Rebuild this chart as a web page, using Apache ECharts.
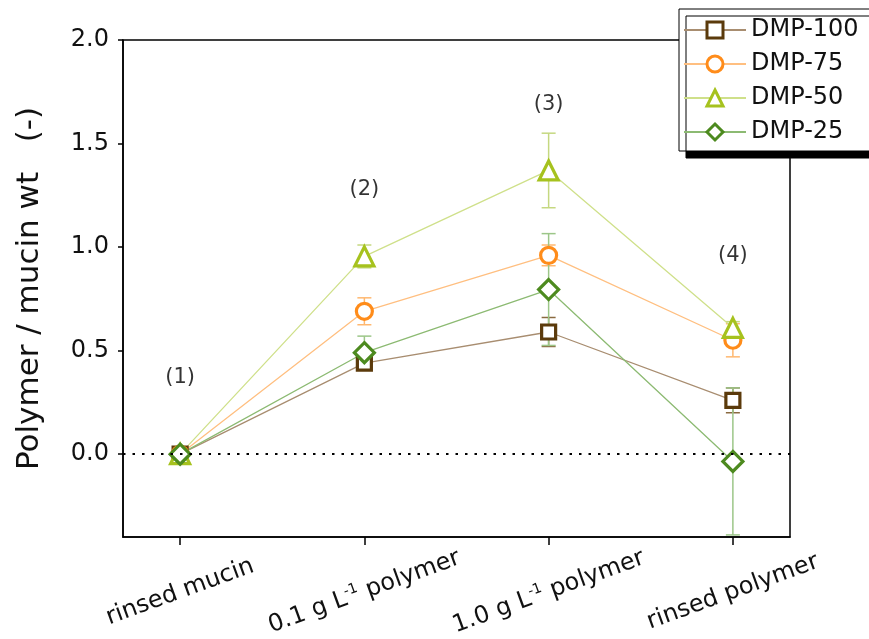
<!DOCTYPE html>
<html><head><meta charset="utf-8">
<script src="https://cdn.jsdelivr.net/npm/echarts@6/dist/echarts.min.js"></script>
<style>html,body{margin:0;padding:0;background:#fff}#c{width:869px;height:639px}</style>
</head><body><div id="c"></div>
<script>
var categories = ['rinsed mucin', '0.1 g L{sup|-1} polymer', '1.0 g L{sup|-1} polymer', 'rinsed polymer'];
var seriesNames = ['DMP-100', 'DMP-75', 'DMP-50', 'DMP-25'];
var dmp100 = [0, 0.44, 0.59, 0.26];
var dmp75  = [0, 0.69, 0.96, 0.55];
var dmp50  = [0, 0.955, 1.37, 0.61];
var dmp25  = [0, 0.49, 0.795, -0.035];
var err100 = [0, 0.03, 0.07, 0.06];
var err75  = [0, 0.065, 0.05, 0.08];
var err50  = [0, 0.055, 0.18, 0.03];
var err25  = [0, 0.08, 0.27, 0.355];
var annoText = ['(1)', '(2)', '(3)', '(4)'];
var annoY = [0.37, 1.28, 1.69, 0.96];
var yTicks = [0, 0.5, 1.0, 1.5, 2.0];

var FONT = 'DejaVu Sans, sans-serif';
var styles = [
  {sym:'rect', size:14, fill:'#5b3a0b', line:'#a88d70', err:'#8a6a40'},
  {sym:'circle', size:16, fill:'#ff8c1a', line:'#ffbf80', err:'#ffb870'},
  {sym:'triangle', size:19, fill:'#a6c21e', line:'#cfe08a', err:'#c5d880'},
  {sym:'diamond', size:20, fill:'#4d8a1f', line:'#8cba72', err:'#9cc688'}
];
var vals = [dmp100, dmp75, dmp50, dmp25];
var errs = [err100, err75, err50, err25];

function errRender(color) {
  return function (params, api) {
    var x = api.value(0), lo = api.value(1), hi = api.value(2);
    if (hi - lo < 1e-9) return null;
    var p1 = api.coord([x, hi]), p2 = api.coord([x, lo]);
    var w = 7;
    var st = {stroke: color, lineWidth: 1.5};
    return {type: 'group', children: [
      {type: 'line', shape: {x1: p1[0], y1: p1[1], x2: p2[0], y2: p2[1]}, style: st},
      {type: 'line', shape: {x1: p1[0]-w, y1: p1[1], x2: p1[0]+w, y2: p1[1]}, style: st},
      {type: 'line', shape: {x1: p2[0]-w, y1: p2[1], x2: p2[0]+w, y2: p2[1]}, style: st}
    ]};
  };
}

var series = [];
for (var s = 0; s < 4; s++) {
  var ed = [];
  for (var i = 0; i < categories.length; i++) ed.push([i, vals[s][i] - errs[s][i], vals[s][i] + errs[s][i]]);
  series.push({
    type: 'custom', name: seriesNames[s] + '_err', renderItem: errRender(styles[s].err),
    data: ed, z: 2, silent: true, encode: {x: 0, y: [1, 2]}
  });
}
for (var s = 0; s < 4; s++) {
  var d = [];
  for (var i = 0; i < categories.length; i++) d.push([i, vals[s][i]]);
  var ser = {
    type: 'line', name: seriesNames[s], data: d, z: 3,
    symbol: styles[s].sym, symbolSize: styles[s].size, showAllSymbol: true,
    lineStyle: {color: styles[s].line, width: 1.3},
    itemStyle: {color: '#ffffff', borderColor: styles[s].fill, borderWidth: 3.2},
    emphasis: {disabled: true}
  };
  if (s === 0) {
    ser.markLine = {silent: true, symbol: ['none', 'none'], label: {show: false},
      lineStyle: {color: '#000', type: [2.5, 7], width: 2.2},
      data: [{yAxis: 0}]};
  }
  series.push(ser);
}
var ad = [];
for (var i = 0; i < annoText.length; i++) ad.push({value: [i, annoY[i]], name: annoText[i]});
series.push({
  type: 'scatter', name: 'anno', data: ad, symbolSize: 1, itemStyle: {color: 'rgba(0,0,0,0)'},
  silent: true, z: 5,
  label: {show: true, position: 'inside', formatter: '{b}', color: '#000', fontSize: 21, fontFamily: FONT}
});

var chart = echarts.init(document.getElementById('c'), null, {renderer: 'canvas'});
chart.setOption({
  animation: false,
  backgroundColor: '#fff',
  grid: {left: 123, right: 79, top: 40, bottom: 102, show: true, borderColor: '#000', borderWidth: 1.5, containLabel: false},
  legend: {
    data: seriesNames, orient: 'vertical', left: 679, top: 9,
    padding: [9, 40, 7, 4], itemGap: 10, itemWidth: 62, itemHeight: 20,
    itemStyle: {borderWidth: 3},
    backgroundColor: '#fff', borderColor: '#000', borderWidth: 1,
    shadowColor: '#000', shadowBlur: 0, shadowOffsetX: 7, shadowOffsetY: 7,
    textStyle: {fontSize: 24, color: '#111', fontFamily: FONT},
    selectedMode: false
  },
  xAxis: {
    type: 'value', min: -0.31, max: 3.31,
    axisLine: {show: true, onZero: false, lineStyle: {color: '#000', width: 1.5}},
    splitLine: {show: false},
    axisTick: {show: true, customValues: [0, 1, 2, 3], length: 8, lineStyle: {color: '#000', width: 1.5}},
    axisLabel: {
      customValues: [0, 1, 2, 3], rotate: 20, align: 'center', verticalAlign: 'middle', margin: 55,
      fontSize: 24, color: '#111', fontFamily: FONT,
      formatter: function (v) { return categories[Math.round(v)]; },
      rich: {sup: {fontSize: 14, color: '#111', fontFamily: FONT, padding: [0, 0, 13, 0]}}
    }
  },
  yAxis: {
    type: 'value', min: -0.4, max: 2.0,
    name: 'Polymer / mucin wt   (-)', nameLocation: 'middle', nameGap: 78,
    nameTextStyle: {fontSize: 31, color: '#111', fontFamily: FONT},
    axisLine: {show: true, onZero: false, lineStyle: {color: '#000', width: 1.5}},
    splitLine: {show: false},
    axisTick: {show: true, customValues: yTicks, length: 5, lineStyle: {color: '#000', width: 1.5}},
    axisLabel: {customValues: yTicks, fontSize: 24, color: '#111', fontFamily: FONT, margin: 14,
      formatter: function (v) { return v.toFixed(1); }}
  },
  series: series
});
</script></body></html>
